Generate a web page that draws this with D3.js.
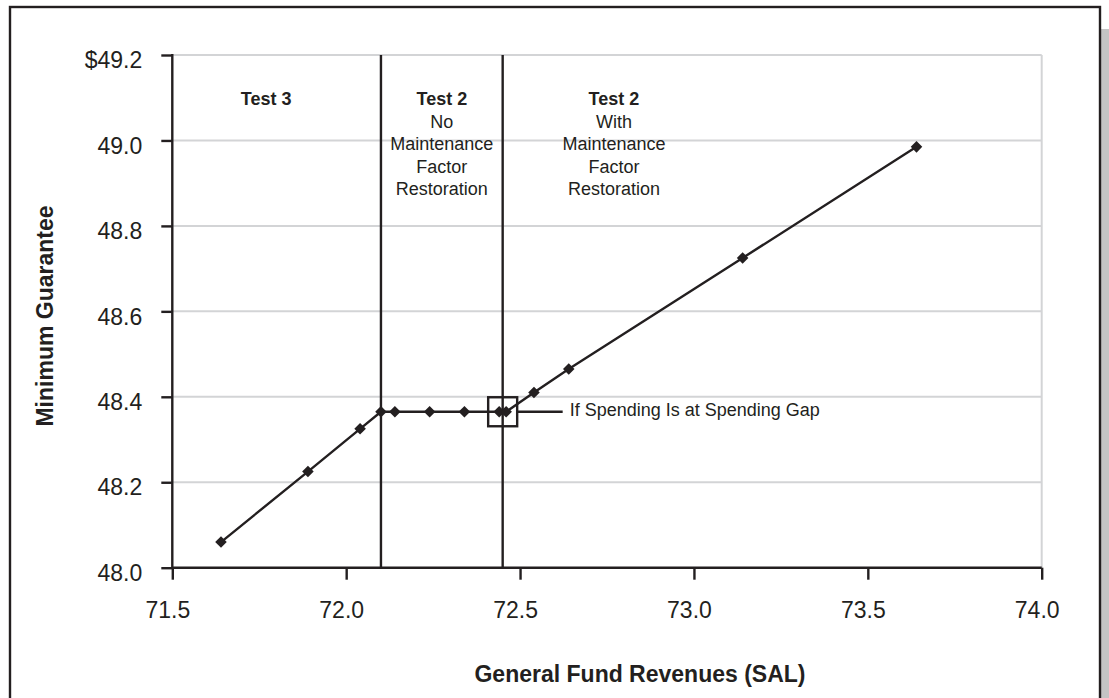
<!DOCTYPE html>
<html>
<head>
<meta charset="utf-8">
<script src="https://cdn.jsdelivr.net/npm/d3@7"></script>
<style>
  html, body { margin: 0; padding: 0; background: #ffffff; }
  svg { display: block; }
  text { font-family: "Liberation Sans", Arial, sans-serif; fill: #231f20; }
</style>
</head>
<body>
<script>
// ---- Data ----
const revenues  = [71.64, 71.89, 72.04, 72.10, 72.14, 72.24, 72.34, 72.44, 72.46, 72.54, 72.64, 73.14, 73.64];
const guarantee = [48.06, 48.225, 48.325, 48.365, 48.365, 48.365, 48.365, 48.365, 48.365, 48.41, 48.465, 48.725, 48.985];
const xTicks = [71.5, 72.0, 72.5, 73.0, 73.5, 74.0];
const yTicks = [48.0, 48.2, 48.4, 48.6, 48.8, 49.0, 49.2];
const dividers = [72.10, 72.45];
const gapPoint = { x: 72.45, y: 48.365, label: "If Spending Is at Spending Gap" };
const regionLabels = [
  { x: 71.77, lines: ["Test 3"] },
  { x: 72.275, lines: ["Test 2", "No", "Maintenance", "Factor", "Restoration"] },
  { x: 72.77, lines: ["Test 2", "With", "Maintenance", "Factor", "Restoration"] }
];
const xTitle = "General Fund Revenues (SAL)";
const yTitle = "Minimum Guarantee";

// ---- Layout ----
const W = 1109, H = 698;
const pLeft = 172.3, pTop = 55, pRight = 1041.7, pBottom = 567.7;
const ink = "#231f20";

const svg = d3.select("body").append("svg").attr("width", W).attr("height", H);

// shadow and frame
svg.append("rect").attr("x", 1101).attr("y", 29).attr("width", 8).attr("height", H)
  .attr("fill", "#c4c4c4");
svg.append("rect").attr("x", 10).attr("y", 7).attr("width", 1090).attr("height", H + 20)
  .attr("fill", "#ffffff").attr("stroke", ink).attr("stroke-width", 2.4);

const x = d3.scaleLinear().domain([71.5, 74.0]).range([pLeft, pRight]);
const y = d3.scaleLinear().domain([48.0, 49.2]).range([pBottom, pTop]);

// gridlines
svg.append("g").selectAll("line").data(yTicks.slice(1)).join("line")
  .attr("x1", pLeft).attr("x2", pRight)
  .attr("y1", d => y(d)).attr("y2", d => y(d))
  .attr("stroke", "#d3d4d6").attr("stroke-width", 2);
svg.append("line").attr("x1", x(74.0)).attr("x2", x(74.0))
  .attr("y1", pTop).attr("y2", pBottom)
  .attr("stroke", "#d3d4d6").attr("stroke-width", 2);

// y axis
const yAxis = d3.axisLeft(y).tickValues(yTicks).tickSize(11).tickPadding(19)
  .tickFormat(d => (d === 49.2 ? "$" : "") + d3.format(".1f")(d));
const gy = svg.append("g").attr("transform", `translate(${pLeft},0)`).call(yAxis);
gy.select(".domain").remove();
gy.selectAll(".tick line").attr("stroke", ink).attr("stroke-width", 2.4);
gy.selectAll(".tick text").attr("font-size", 23).attr("dy", "0.55em")
  .style("font-family", '"Liberation Sans", Arial, sans-serif').attr("fill", ink);

// x axis
const xAxis = d3.axisBottom(x).tickValues(xTicks).tickSize(12).tickPadding(34)
  .tickFormat(d3.format(".1f"));
const gx = svg.append("g").attr("transform", `translate(0,${pBottom})`).call(xAxis);
gx.select(".domain").remove();
gx.selectAll(".tick line").attr("stroke", ink).attr("stroke-width", 2.4);
gx.selectAll(".tick text").attr("font-size", 23).attr("dx", -5).attr("dy", "0.2em")
  .style("font-family", '"Liberation Sans", Arial, sans-serif').attr("fill", ink);

// axis lines
svg.append("line").attr("x1", pLeft).attr("x2", pLeft).attr("y1", pTop - 1).attr("y2", pBottom + 1)
  .attr("stroke", ink).attr("stroke-width", 2.4);
svg.append("line").attr("x1", pLeft).attr("x2", pRight).attr("y1", pBottom).attr("y2", pBottom)
  .attr("stroke", ink).attr("stroke-width", 2.4);

// divider lines
svg.append("g").selectAll("line").data(dividers).join("line")
  .attr("x1", d => x(d)).attr("x2", d => x(d))
  .attr("y1", pTop).attr("y2", pBottom)
  .attr("stroke", ink).attr("stroke-width", 2.4);

// region labels
const rl = svg.append("g").selectAll("text").data(regionLabels).join("text")
  .attr("text-anchor", "middle").attr("font-size", 18);
rl.each(function(d) {
  const t = d3.select(this);
  d.lines.forEach((line, i) => {
    t.append("tspan").attr("x", x(d.x)).attr("y", 105 + i * 22.6)
      .attr("font-weight", i === 0 ? "bold" : "normal").text(line);
  });
});

// data line
const pts = revenues.map((r, i) => [r, guarantee[i]]);
svg.append("path").datum(pts)
  .attr("d", d3.line().x(d => x(d[0])).y(d => y(d[1])))
  .attr("fill", "none").attr("stroke", ink).attr("stroke-width", 2.4);

// markers
svg.append("g").selectAll("path").data(pts).join("path")
  .attr("transform", d => `translate(${x(d[0])},${y(d[1])})`)
  .attr("d", d3.symbol(d3.symbolDiamond2, 85)())
  .attr("fill", ink);

// gap box and leader
const gxp = x(gapPoint.x), gyp = y(gapPoint.y);
svg.append("rect").attr("x", gxp - 14.5).attr("y", gyp - 14.5).attr("width", 29).attr("height", 29)
  .attr("fill", "none").attr("stroke", ink).attr("stroke-width", 2.4);
svg.append("line").attr("x1", gxp + 14.5).attr("x2", gxp + 60).attr("y1", gyp).attr("y2", gyp)
  .attr("stroke", ink).attr("stroke-width", 2.4);
svg.append("text").attr("x", gxp + 67).attr("y", gyp + 4).attr("font-size", 18)
  .text(gapPoint.label);

// axis titles
svg.append("text").attr("x", 640).attr("y", 682).attr("text-anchor", "middle")
  .attr("font-size", 23).attr("font-weight", "bold").text(xTitle);
svg.append("text").attr("transform", `translate(53,316) rotate(-90)`).attr("text-anchor", "middle")
  .attr("font-size", 23).attr("font-weight", "bold").text(yTitle);
</script>
</body>
</html>
